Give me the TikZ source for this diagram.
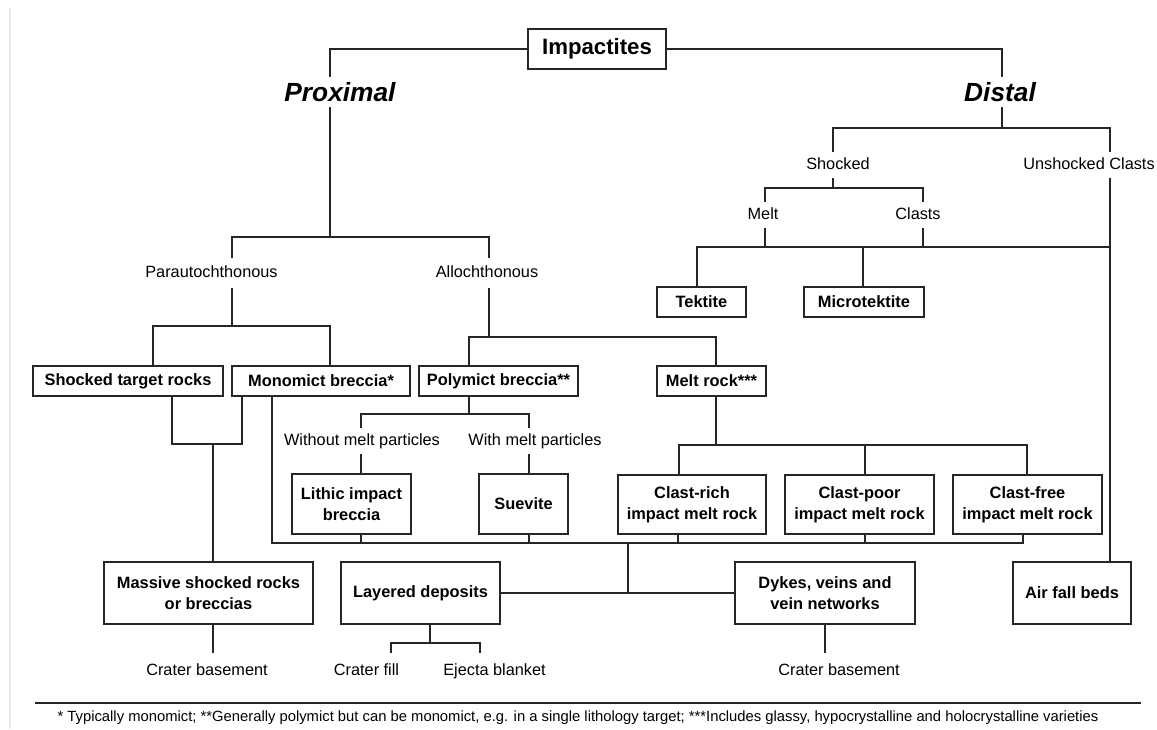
\documentclass[tikz,border=0pt]{standalone}
\usepackage{fontspec}
\setmainfont{Liberation Sans}
\usetikzlibrary{calc, positioning}

\begin{document}
\begin{tikzpicture}[
    x=1pt, y=-1pt,
    box/.style={draw=black!85, line width=1.2pt, font=\fontsize{16.4}{21}\selectfont\bfseries, align=center, inner sep=0pt, minimum height=30pt},
    heading/.style={font=\fontsize{26.3}{30}\selectfont\bfseries\itshape, text height=19pt, text depth=0pt, inner sep=5.5pt},
    branch_label/.style={font=\fontsize{16.3}{19}\selectfont, text height=12pt, text depth=3.5pt, inner xsep=0pt, inner ysep=5pt},
    link/.style={draw=black!85, line width=1.3pt},
    foot_note/.style={font=\fontsize{14.8}{17}\selectfont, inner sep=0pt}
]

    \useasboundingbox (0,0) rectangle (1157,729);

    % Scanned page edge
    \draw[black!8, line width=2.5pt] (10,8) -- (10,729);

    % Nodes
    \node[box, minimum width=138pt, minimum height=40pt, font=\fontsize{22.2}{26}\selectfont\bfseries] (imp) at (597,49) {Impactites};
    \node[heading] (prox) at (340,92) {Proximal};
    \node[heading] (dist) at (1000,92) {Distal};

    % Distal side
    \node[branch_label] (shocked) at (838,165) {Shocked};
    \node[branch_label] (unshocked) at (1089,165) {Unshocked Clasts};
    \node[branch_label] (melt) at (763,215) {Melt};
    \node[branch_label] (clasts) at (918,215) {Clasts};
    \node[box, minimum width=89pt] (tektite) at (701.5,302) {Tektite};
    \node[box, minimum width=120pt] (microtektite) at (864,302) {Microtektite};
    \node[box, minimum width=118pt, minimum height=62pt] (air_fall) at (1072,593) {Air fall beds};

    % Proximal side
    \node[branch_label, inner ysep=7.5pt] (paraut) at (211.5,273) {Parautochthonous};
    \node[branch_label, inner ysep=7.5pt] (alloch) at (487,273) {Allochthonous};
    \node[box, minimum width=190pt] (shocked_target) at (128,381) {Shocked target rocks};
    \node[box, minimum width=178pt] (monomict) at (321,381) {Monomict breccia*};
    \node[box, minimum width=159pt] (polymict) at (498.5,381) {Polymict breccia**};
    \node[box, minimum width=109pt] (melt_rock) at (711.5,381) {Melt rock***};
    \node[branch_label] (without_melt) at (362,441) {Without melt particles};
    \node[branch_label] (with_melt) at (535,441) {With melt particles};
    \node[box, minimum width=119pt, minimum height=60pt] (lithic) at (351.5,504) {Lithic impact\\breccia};
    \node[box, minimum width=89pt, minimum height=60pt] (suevite) at (523.5,504) {Suevite};
    \node[box, minimum width=148pt, minimum height=59pt] (clast_rich) at (692,504.5) {Clast-rich\\impact melt rock};
    \node[box, minimum width=149pt, minimum height=59pt] (clast_poor) at (859.5,504.5) {Clast-poor\\impact melt rock};
    \node[box, minimum width=149pt, minimum height=59pt] (clast_free) at (1027.5,504.5) {Clast-free\\impact melt rock};

    % Occurrences
    \node[box, minimum width=209pt, minimum height=62pt] (massive) at (208.5,593) {Massive shocked rocks\\or breccias};
    \node[box, minimum width=159pt, minimum height=62pt] (layered) at (420.5,593) {Layered deposits};
    \node[box, minimum width=180pt, minimum height=62pt] (dykes) at (825,593) {Dykes, veins and\\vein networks};
    \node[branch_label, inner ysep=10pt] (basement_a) at (207,671) {Crater basement};
    \node[branch_label, inner ysep=10pt] (crater_fill) at (366.5,671) {Crater fill};
    \node[branch_label, inner ysep=10pt] (ejecta) at (494.5,671) {Ejecta blanket};
    \node[branch_label, inner ysep=10pt] (basement_b) at (839,671) {Crater basement};

    % Junctions
    \coordinate (prox_corner) at (330,49);
    \coordinate (dist_corner) at (1002,49);
    \coordinate (prox_bar) at (330,237);
    \coordinate (para_top) at (232,237);
    \coordinate (allo_top) at (489,237);
    \coordinate (dist_bar) at (1002,128);
    \coordinate (shock_top) at (833,128);
    \coordinate (unsh_top) at (1110,128);
    \coordinate (shock_bar) at (833,188);
    \coordinate (melt_top) at (765,188);
    \coordinate (clasts_top) at (923,188);
    \coordinate (tek_top) at (697,247);
    \coordinate (micro_top) at (863,247);
    \coordinate (para_bar) at (232,326);
    \coordinate (str_top) at (153,326);
    \coordinate (mono_top) at (330,326);
    \coordinate (allo_bar) at (489,337);
    \coordinate (poly_top) at (469,337);
    \coordinate (mrock_top) at (716,337);
    \coordinate (join_left) at (172,444);
    \coordinate (join_mid) at (213,444);
    \coordinate (join_right) at (242,444);
    \coordinate (poly_bar) at (469,414);
    \coordinate (without_top) at (361,414);
    \coordinate (with_top) at (529,414);
    \coordinate (mrock_bar) at (716,445);
    \coordinate (rich_top) at (679,445);
    \coordinate (poor_top) at (865,445);
    \coordinate (free_top) at (1027,445);
    \coordinate (bar_mono) at (272,543);
    \coordinate (bar_lithic) at (361,543);
    \coordinate (bar_suevite) at (529,543);
    \coordinate (bar_join) at (628,543);
    \coordinate (bar_rich) at (678,543);
    \coordinate (bar_poor) at (865,543);
    \coordinate (bar_free) at (1023,543);
    \coordinate (layer_bar) at (430,643);
    \coordinate (fill_top) at (391,643);
    \coordinate (ejecta_top) at (480,643);

    % Connectors
    % Impactites -> Proximal / Distal
    \draw[link] (imp.west) -- (prox_corner) -- (prox_corner |- prox.north);
    \draw[link] (imp.east) -- (dist_corner) -- (dist_corner |- dist.north);
    \draw[link] (prox_corner |- prox.south) -- (prox_bar);
    \draw[link] (dist_corner |- dist.south) -- (dist_bar);

    % Distal -> Shocked / Unshocked Clasts
    \draw[link] (shock_top |- shocked.north) -- (shock_top) -- (unsh_top) -- (unsh_top |- unshocked.north);
    \draw[link] (shock_top |- shocked.south) -- (shock_bar);
    \draw[link] (melt_top |- melt.north) -- (melt_top) -- (clasts_top) -- (clasts_top |- clasts.north);
    \draw[link] (melt_top |- melt.south) -- (melt_top |- tek_top);
    \draw[link] (clasts_top |- clasts.south) -- (clasts_top |- tek_top);

    % Melt / Clasts -> Tektite, Microtektite
    \draw[link] (tektite.north -| tek_top) -- (tek_top) -- (unsh_top |- tek_top);
    \draw[link] (micro_top) -- (microtektite.north -| micro_top);
    \draw[link] (unsh_top |- unshocked.south) -- (unsh_top |- air_fall.north);

    % Proximal -> Parautochthonous / Allochthonous
    \draw[link] (para_top |- paraut.north) -- (para_top) -- (allo_top) -- (allo_top |- alloch.north);
    \draw[link] (para_top |- paraut.south) -- (para_bar);
    \draw[link] (shocked_target.north -| str_top) -- (str_top) -- (mono_top) -- (monomict.north -| mono_top);
    \draw[link] (allo_top |- alloch.south) -- (allo_bar);
    \draw[link] (polymict.north -| poly_top) -- (poly_top) -- (mrock_top) -- (melt_rock.north -| mrock_top);

    % Shocked target rocks + Monomict breccia -> Massive shocked rocks
    \draw[link] (shocked_target.south -| join_left) -- (join_left) -- (join_right) -- (monomict.south -| join_right);
    \draw[link] (join_mid) -- (massive.north -| join_mid);

    % Polymict breccia -> Lithic impact breccia / Suevite
    \draw[link] (polymict.south -| poly_bar) -- (poly_bar);
    \draw[link] (without_top |- without_melt.north) -- (without_top) -- (with_top) -- (with_top |- with_melt.north);
    \draw[link] (without_top |- without_melt.south) -- (lithic.north -| without_top);
    \draw[link] (with_top |- with_melt.south) -- (suevite.north -| with_top);

    % Melt rock -> impact melt rocks
    \draw[link] (melt_rock.south -| mrock_bar) -- (mrock_bar);
    \draw[link] (clast_rich.north -| rich_top) -- (rich_top) -- (free_top) -- (clast_free.north -| free_top);
    \draw[link] (poor_top) -- (clast_poor.north -| poor_top);

    % Breccias and melt rocks -> Layered deposits / Dykes
    \draw[link] (monomict.south -| bar_mono) -- (bar_mono) -- (bar_free) -- (clast_free.south -| bar_free);
    \draw[link] (lithic.south -| bar_lithic) -- (bar_lithic);
    \draw[link] (suevite.south -| bar_suevite) -- (bar_suevite);
    \draw[link] (clast_rich.south -| bar_rich) -- (bar_rich);
    \draw[link] (clast_poor.south -| bar_poor) -- (bar_poor);
    \draw[link] (bar_join) -- (bar_join |- layered.east);
    \draw[link] (layered.east) -- (dykes.west);

    % Settings
    \draw[link] (massive.south -| join_mid) -- (join_mid |- basement_a.north);
    \draw[link] (layered.south -| layer_bar) -- (layer_bar);
    \draw[link] (fill_top |- crater_fill.north) -- (fill_top) -- (ejecta_top) -- (ejecta_top |- ejecta.north);
    \draw[link] (dykes.south) -- (dykes.south |- basement_b.north);

    % Footnote
    \draw[black!85, line width=1.3pt] (35,703) -- (1141,703);
    \node[foot_note] (note) at (578,718) {* Typically monomict; **Generally polymict but can be monomict, e.g. in a single lithology target; ***Includes glassy, hypocrystalline and holocrystalline varieties};

\end{tikzpicture}
\end{document}
